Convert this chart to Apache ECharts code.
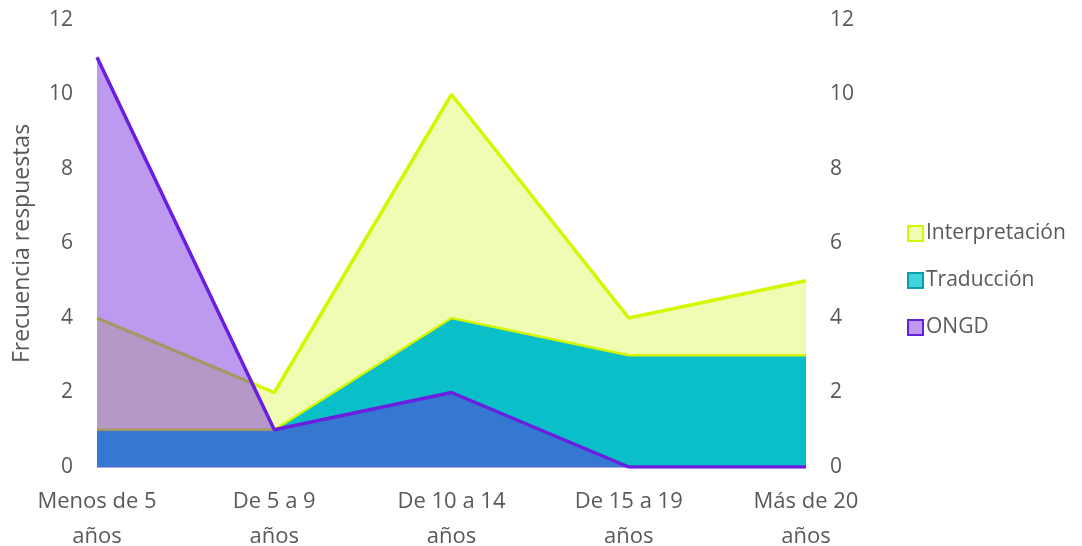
<!DOCTYPE html>
<html>
<head>
<meta charset="utf-8">
<script src="https://cdn.jsdelivr.net/npm/echarts@6/dist/echarts.min.js"></script>
<style>
  html, body { margin: 0; padding: 0; background: #fff; }
  #chart { width: 1082px; height: 546px; }
</style>
</head>
<body>
<div id="chart"></div>
<script>
const categories = ["Menos de 5\naños", "De 5 a 9\naños", "De 10 a 14\naños", "De 15 a 19\naños", "Más de 20\naños"];
// Traducción and Interpretación are stacked on the left axis
const traduccion = [1, 1, 4, 3, 3];
const interpretacion = [3, 1, 6, 1, 2];
// ONGD sits on the right axis, not stacked
const ongd = [11, 1, 2, 0, 0];

const textColor = "#595959";
const fontFamily = "'Open Sans', 'Noto Sans', sans-serif";
const fontSize = 22;

const chart = echarts.init(document.getElementById("chart"));

const yAxisBase = {
  type: "value",
  min: 0,
  max: 12,
  interval: 2,
  splitLine: { show: false },
  axisLine: { show: false },
  axisTick: { show: false },
  axisLabel: {
    color: textColor,
    fontSize: 21,
    fontFamily: fontFamily,
    margin: 24,
  },
};

chart.setOption({
  animation: false,
  textStyle: { fontFamily: fontFamily },
  grid: {
    left: 97,
    right: 276,
    top: 20,
    bottom: 79,
    outerBoundsMode: "none",
  },
  legend: {
    orient: "vertical",
    left: 902,
    top: 214,
    itemWidth: 15,
    itemHeight: 15,
    itemGap: 18,
    icon: "rect",
    textStyle: { color: textColor, fontSize: 21, fontFamily: fontFamily, padding: [0, 0, 0, -2], height: 29, lineHeight: 29 },
    data: [
      { name: "Interpretación", itemStyle: { color: "#f0fcb4", borderColor: "#d4f700", borderWidth: 2 } },
      { name: "Traducción", itemStyle: { color: "#3fd3da", borderColor: "#0a9fa8", borderWidth: 2 } },
      { name: "ONGD", itemStyle: { color: "#c09af0", borderColor: "#6a1ee0", borderWidth: 2 } },
    ],
  },
  xAxis: {
    type: "category",
    data: categories,
    boundaryGap: false,
    axisLine: { show: true, lineStyle: { color: "#b9a3ea", width: 1 } },
    axisTick: { show: false },
    axisLabel: {
      color: textColor,
      fontSize: fontSize,
      fontFamily: fontFamily,
      lineHeight: 35,
      margin: 17,
      interval: 0,
    },
  },
  yAxis: [
    {
      ...yAxisBase,
      position: "left",
      name: "Frecuencia respuestas",
      nameLocation: "middle",
      nameGap: 63,
      nameTextStyle: { color: textColor, fontSize: 23, fontFamily: fontFamily },
    },
    {
      ...yAxisBase,
      position: "right",
    },
  ],
  series: [
    {
      name: "Traducción",
      type: "line",
      stack: "lenguas",
      yAxisIndex: 0,
      data: traduccion,
      symbol: "none",
      z: 3,
      itemStyle: { color: "#0abfc8" },
      lineStyle: { color: "#d4f700", width: 2.5 },
      areaStyle: { color: "#0abfc8", opacity: 1 },
    },
    {
      name: "Interpretación",
      type: "line",
      stack: "lenguas",
      yAxisIndex: 0,
      data: interpretacion,
      symbol: "none",
      z: 2,
      itemStyle: { color: "#f0fcb4" },
      lineStyle: { color: "#d4f700", width: 3.5 },
      areaStyle: { color: "#f0fcb4", opacity: 1 },
    },
    {
      name: "ONGD",
      type: "line",
      yAxisIndex: 1,
      data: ongd,
      symbol: "none",
      z: 4,
      itemStyle: { color: "#6a1ee0" },
      lineStyle: { color: "#6a1ee0", width: 3.5 },
      areaStyle: { color: "#6c1fde", opacity: 0.45 },
    },
  ],
});
</script>
</body>
</html>
